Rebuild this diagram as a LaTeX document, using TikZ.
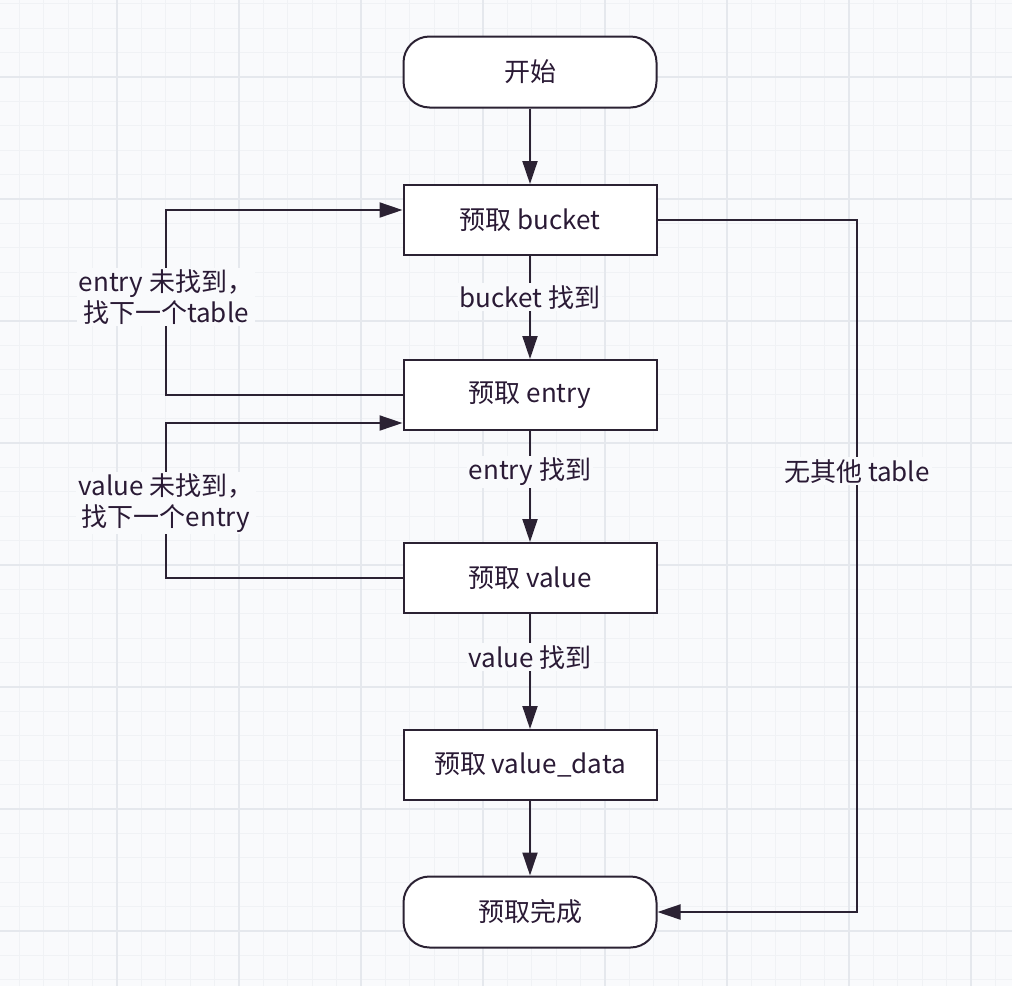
\documentclass[tikz,border=0pt]{standalone}
\usepackage{fontspec}
\setmainfont{Noto Sans CJK SC}
\usetikzlibrary{arrows.meta}
\definecolor{bg}{HTML}{F9FAFC}
\definecolor{minorg}{HTML}{F0F2F5}
\definecolor{majorg}{HTML}{E5E8ED}
\definecolor{linec}{HTML}{2B2233}
\definecolor{txtc}{HTML}{2A1A35}
\tikzset{
  proc/.style={draw=linec, line width=2pt, fill=white, minimum width=253pt, minimum height=70pt, text=txtc, font=\fontsize{26}{32}\selectfont, inner sep=2pt},
  term/.style={proc, rounded corners=26pt, minimum height=71pt},
  arr/.style={draw=linec, line width=2pt, -{Triangle[length=23pt,width=15pt]}},
  lbl/.style={fill=bg, inner sep=2pt, text=txtc, font=\fontsize{26}{31}\selectfont, align=center},
  minorgrid/.style={draw=minorg, line width=1pt},
  majorgrid/.style={draw=majorg, line width=1.2pt}
}
\begin{document}
\begin{tikzpicture}[x=1pt,y=-1pt]
\fill[bg] (0,0) rectangle (1012,986);
\useasboundingbox (0,0) rectangle (1012,986);
\foreach \i in {0,...,41} { \draw[minorgrid] ({19.4+24.4*\i},0) -- ++(0,986); }
\foreach \i in {0,...,40} { \draw[minorgrid] (0,{3.8+24.4*\i}) -- ++(1012,0); }
\foreach \i in {1,...,8} { \draw[majorgrid] ({-5+122*\i},0) -- ++(0,986); }
\foreach \i in {0,...,7} { \draw[majorgrid] (0,{77+122*\i}) -- ++(1012,0); }

\node[term] (start) at (530,72) {开始};
\node[proc] (bucket) at (530,220) {预取 bucket};
\node[proc] (entry) at (530,395) {预取 entry};
\node[proc] (value) at (530,578) {预取 value};
\node[proc] (vdata) at (530,765) {预取 value\_data};
\node[term] (done) at (530,912) {预取完成};

\coordinate (lx) at (166,0);
\coordinate (rx) at (857,0);

\draw[arr] (start) -- (bucket);
\draw[arr] (bucket) -- node[lbl,pos=0.4]{bucket 找到} (entry);
\draw[arr] (entry) -- node[lbl,pos=0.37]{entry 找到} (value);
\draw[arr] (value) -- node[lbl,pos=0.376]{value 找到} (vdata);
\draw[arr] (vdata) -- (done);

\draw[arr] (entry.west) -- (entry.west -| lx) -- node[lbl,pos=0.53]{entry 未找到，\\找下一个table} ([yshift=10pt]bucket.west -| lx) -- ([yshift=10pt]bucket.west);
\draw[arr] (value.west) -- (value.west -| lx) -- node[lbl,pos=0.484]{value 未找到，\\找下一个entry} ([yshift=-28pt]entry.west -| lx) -- ([yshift=-28pt]entry.west);
\draw[arr] (bucket.east) -- (bucket.east -| rx) -- node[lbl,pos=0.363]{无其他 table} (done.east -| rx) -- (done.east);
\end{tikzpicture}
\end{document}
